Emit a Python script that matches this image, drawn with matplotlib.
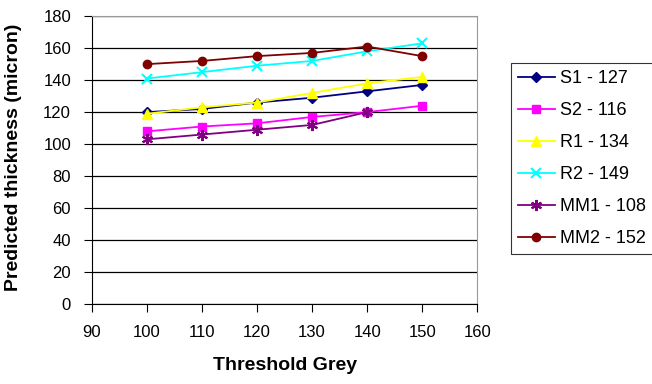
import matplotlib
matplotlib.use("Agg")
import matplotlib.pyplot as plt

plt.rcParams["font.family"] = ["Liberation Sans", "DejaVu Sans"]

# threshold grey levels
x = [100, 110, 120, 130, 140, 150]

s1 = [120, 122, 126, 129, 133, 137]
s2 = [108, 111, 113, 117, 120, 124]
r1 = [119, 123, 126, 132, 138, 142]
r2 = [141, 145, 149, 152, 158, 163]
mm1 = [103, 106, 109, 112, 120]
mm2 = [150, 152, 155, 157, 161, 155]

labels = ["S1 - 127", "S2 - 116", "R1 - 134", "R2 - 149", "MM1 - 108", "MM2 - 152"]
series = [s1, s2, r1, r2, mm1, mm2]
colors = ["#000080", "#FF00FF", "#FFFF00", "#00FFFF", "#800080", "#800000"]
markers = ["D", "s", "^", "x", (6, 2, 0), "o"]
msizes = [5, 6, 7, 7, 8, 6]

fig = plt.figure(figsize=(6.52, 3.84), dpi=100)
ax = fig.add_axes([0.141, 0.208, 0.591, 0.750])

for ys, lab, c, m, ms in zip(series, labels, colors, markers, msizes):
    mew = 1.5 if m in ("x", (6, 2, 0)) else 1
    ax.plot(x[:len(ys)], ys, color=c, lw=1.3, marker=m, ms=ms,
            mec=c, mfc=c, mew=mew, label=lab)

ax.set_xlim(90, 160)
ax.set_ylim(0, 180)
ax.set_xticks(range(90, 161, 10))
ax.set_yticks(range(0, 181, 20))
ax.yaxis.grid(True, color="black", lw=0.9)
ax.set_axisbelow(True)
for s in ["top", "right"]:
    ax.spines[s].set_color("#999999")
ax.tick_params(labelsize=12, length=6, direction="out")
ax.tick_params(axis="x", pad=9)
ax.tick_params(axis="y", pad=9)
ax.set_xlabel("Threshold Grey", fontsize=14, fontweight="bold")
ax.set_ylabel("Predicted thickness (micron)", fontsize=14, fontweight="bold")
ax.xaxis.set_label_coords(0.5, -0.185)
ax.yaxis.set_label_coords(-0.182, 0.51)

leg = fig.legend(loc="center left", bbox_to_anchor=(0.784, 0.587), fontsize=13,
                 frameon=True, fancybox=False, edgecolor="black",
                 borderpad=0.4, labelspacing=0.83, handlelength=2.0,
                 handletextpad=0.33, borderaxespad=0)
leg.get_frame().set_linewidth(0.8)

fig.savefig("out.png", dpi=100)
